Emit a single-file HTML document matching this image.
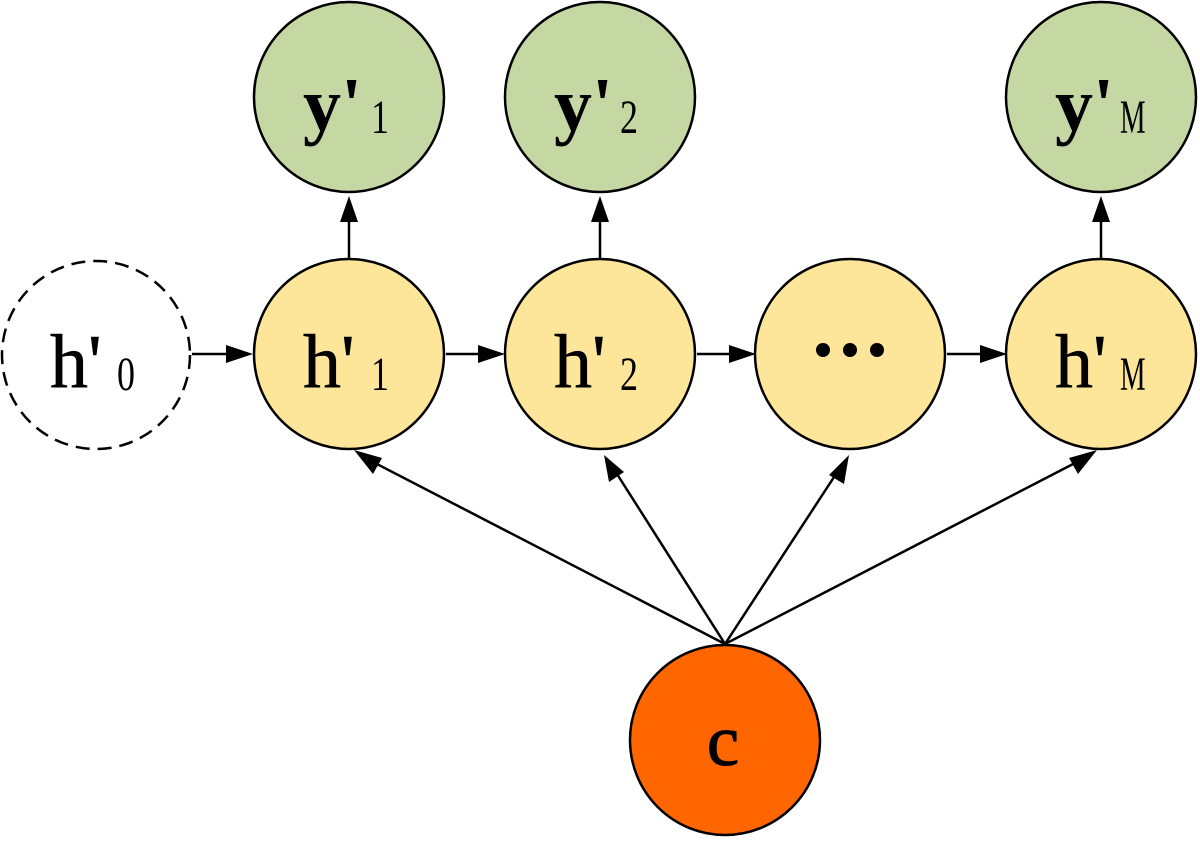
<!DOCTYPE html>
<html><head><style>html,body{margin:0;padding:0;background:#fff}</style></head><body>
<svg width="1200" height="840" viewBox="0 0 1200 840" xmlns="http://www.w3.org/2000/svg">
<g stroke="#000" stroke-width="2.5">
<circle cx="349" cy="97" r="95" fill="#c5d8a4"/>
<circle cx="600" cy="97" r="95" fill="#c5d8a4"/>
<circle cx="1101" cy="97" r="95" fill="#c5d8a4"/>
<circle cx="96" cy="355" r="94" fill="#fff" stroke-dasharray="14,8"/>
<circle cx="349" cy="354" r="95" fill="#fde59a"/>
<circle cx="600" cy="354" r="95" fill="#fde59a"/>
<circle cx="850" cy="354" r="95" fill="#fde59a"/>
<circle cx="1101" cy="354" r="95" fill="#fde59a"/>
<circle cx="725" cy="740" r="95" fill="#ff6600"/>
<line x1="349" y1="259" x2="349" y2="220"/>
<line x1="600" y1="259" x2="600" y2="220"/>
<line x1="1101" y1="259" x2="1101" y2="220"/>
<line x1="192" y1="354" x2="228" y2="354"/>
<line x1="446" y1="354" x2="480" y2="354"/>
<line x1="697" y1="354" x2="730" y2="354"/>
<line x1="947" y1="354" x2="982" y2="354"/>
<line x1="725" y1="644" x2="375" y2="463"/>
<line x1="725" y1="644" x2="617" y2="474"/>
<line x1="725" y1="644" x2="836" y2="474"/>
<line x1="725" y1="644" x2="1075" y2="463"/>
</g>
<g fill="#000">
<polygon points="349,196 340,222 358,222"/>
<polygon points="600,196 591,222 609,222"/>
<polygon points="1101,196 1092,222 1110,222"/>
<polygon points="253,354 226,345 226,363"/>
<polygon points="505,354 478,345 478,363"/>
<polygon points="756,354 729,345 729,363"/>
<polygon points="1007,354 980,345 980,363"/>
<polygon points="354,450 382,458 373,474"/>
<polygon points="604,455 609,482 624,472"/>
<polygon points="849,455 829,475 844,484"/>
<polygon points="1097,450 1069,458 1078,474"/>
</g>
<g font-family="Liberation Serif, serif" fill="#000" stroke="#000">
<text x="303" y="130" font-size="76" font-weight="bold" stroke-width="0">y'</text>
<text x="303" y="387" font-size="76" stroke-width="0.6">h'</text>
<text x="554" y="130" font-size="76" font-weight="bold" stroke-width="0">y'</text>
<text x="554" y="387" font-size="76" stroke-width="0.6">h'</text>
<text x="1055" y="130" font-size="76" font-weight="bold" stroke-width="0">y'</text>
<text x="1055" y="387" font-size="76" stroke-width="0.6">h'</text>
<text x="50" y="387" font-size="76" stroke-width="0.6">h'</text>
<text x="707" y="765" font-size="72" stroke-width="1.2">c</text>
</g>
<g font-family="Liberation Serif, serif" fill="#000" font-size="48">
<text transform="translate(371,133) scale(0.75,1)">1</text>
<text transform="translate(371,390) scale(0.75,1)">1</text>
<text transform="translate(620,133) scale(0.75,1)">2</text>
<text transform="translate(620,390) scale(0.75,1)">2</text>
<text transform="translate(1120,133) scale(0.6,1)">M</text>
<text transform="translate(1120,390) scale(0.6,1)">M</text>
<text transform="translate(117,390) scale(0.75,1)">0</text>
</g>
<g fill="#000"><circle cx="823" cy="350" r="7"/><circle cx="850" cy="350" r="7"/><circle cx="877" cy="350" r="7"/></g>
</svg>
</body></html>
